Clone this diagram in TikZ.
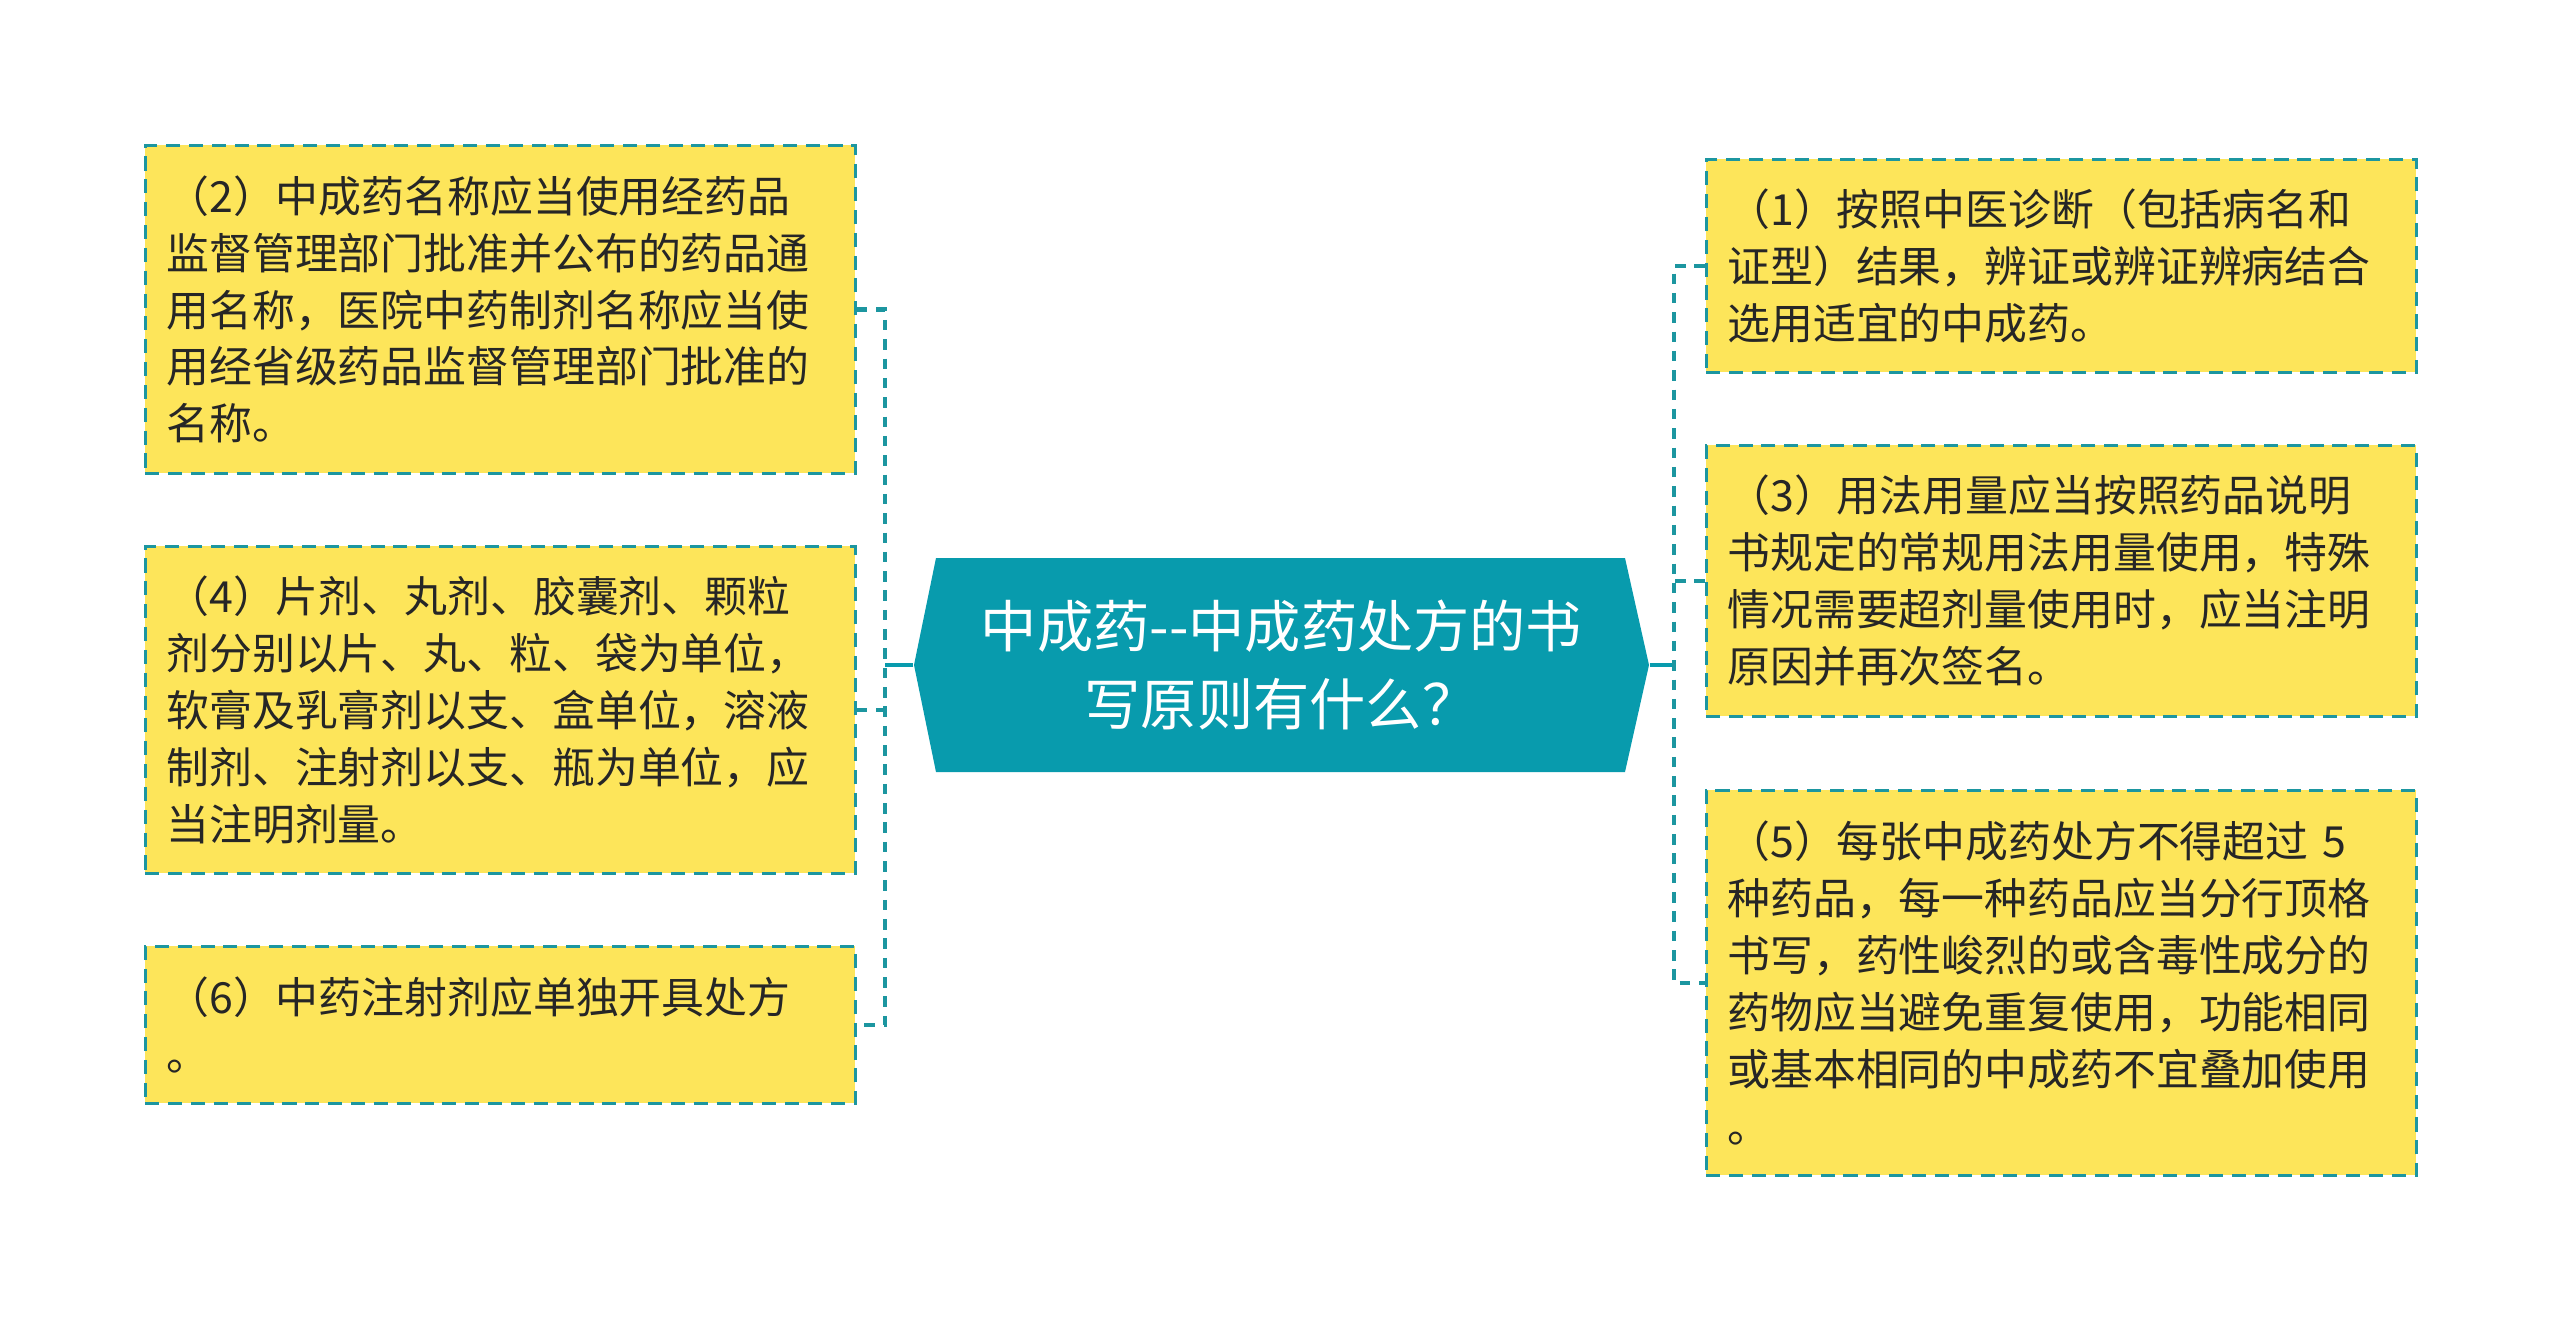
\documentclass[tikz,border=0pt]{standalone}
\usepackage{fontspec}
\setmainfont{Noto Sans CJK SC}
\usetikzlibrary{calc}
\definecolor{hubteal}{RGB}{8,155,173}
\definecolor{leafyellow}{RGB}{253,229,90}
\definecolor{leafline}{RGB}{28,150,160}
\begin{document}
\begin{tikzpicture}[x=0.1mm, y=-0.1mm]%
        \tikzstyle{leaf}=[rectangle, draw=leafline, fill=leafyellow, line width=0.8pt, dash pattern=on 4pt off 2.5pt, anchor=north west, inner xsep=2.1mm, inner ysep=0pt, text width=66.8mm, align=left, text=black!85, font=\fontsize{12.2pt}{16.2pt}\selectfont];%
        \tikzstyle{link}=[draw=leafline, line width=1.3pt, dash pattern=on 3pt off 2.5pt];%
        \useasboundingbox (0,0) rectangle (2560,1318);

        \fill[hubteal] (914,665) -- (936,558) -- (1625,558) -- (1649,665) -- (1625,772) -- (936,772) -- cycle;
        \node (c) at (1281.5,665) [minimum width=73.5mm, minimum height=21.4mm, align=center, text=white, font=\fontsize{16pt}{22pt}\selectfont] {中成药{-}{-}中成药处方的书\\写原则有什么？};

        \node (l2) at (144,144) [leaf, minimum height=32.8mm] {（2）中成药名称应当使用经药品\\监督管理部门批准并公布的药品通\\用名称，医院中药制剂名称应当使\\用经省级药品监督管理部门批准的\\名称。};
        \node (l4) at (144,545) [leaf, minimum height=32.7mm] {（4）片剂、丸剂、胶囊剂、颗粒\\剂分别以片、丸、粒、袋为单位，\\软膏及乳膏剂以支、盒单位，溶液\\制剂、注射剂以支、瓶为单位，应\\当注明剂量。};
        \node (l6) at (144,945) [leaf, minimum height=15.7mm] {（6）中药注射剂应单独开具处方\\。};

        \node (r1) at (1705,158) [leaf, minimum height=21.3mm] {（1）按照中医诊断（包括病名和\\证型）结果，辨证或辨证辨病结合\\选用适宜的中成药。};
        \node (r3) at (1705,444) [leaf, minimum height=27.1mm] {（3）用法用量应当按照药品说明\\书规定的常规用法用量使用，特殊\\情况需要超剂量使用时，应当注明\\原因并再次签名。};
        \node (r5) at (1705,789) [leaf, minimum height=38.5mm] {（5）每张中成药处方不得超过 5\\种药品，每一种药品应当分行顶格\\书写，药性峻烈的或含毒性成分的\\药物应当避免重复使用，功能相同\\或基本相同的中成药不宜叠加使用\\。};

        % left side
        \coordinate (lt) at (885,665);
        \draw[hubteal, line width=1.1pt] (c.west) -- (lt);
        \draw[link] (l2.east) -| (lt) |- (l6.east);
        \draw[link] (l4.east) -- (l4.east -| lt);

        % right side
        \coordinate (rt) at (1674,665);
        \draw[hubteal, line width=1.1pt] (c.east) -- (rt);
        \draw[link] (r1.west) -| (rt) |- (r5.west);
        \draw[link] (r3.west) -- (r3.west -| rt);
    \end{tikzpicture}
\end{document}
